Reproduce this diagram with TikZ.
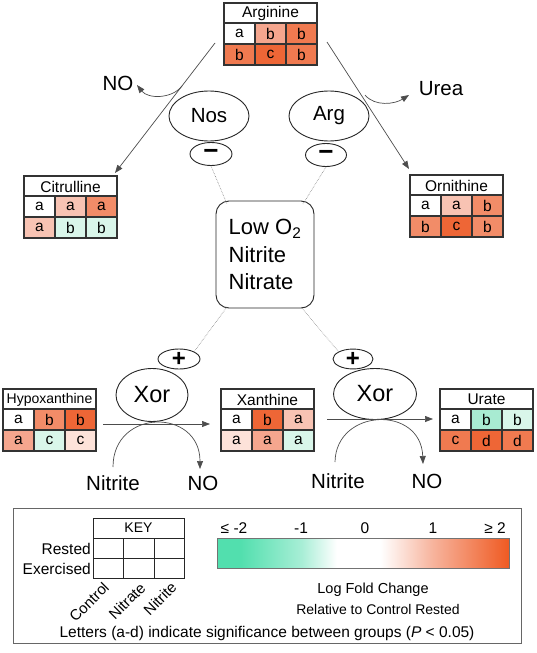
\documentclass[tikz,border=0pt]{standalone}
\usepackage{fontspec}
\setmainfont{Liberation Sans}
\usetikzlibrary{shapes.geometric,arrows.meta}
\definecolor{pA}{HTML}{FDE2D9}
\definecolor{pB}{HTML}{F8C3B3}
\definecolor{pC}{HTML}{F5A68E}
\definecolor{pD}{HTML}{F28C68}
\definecolor{pE}{HTML}{F07A50}
\definecolor{pF}{HTML}{EE6636}
\definecolor{gA}{HTML}{D9F6EA}
\definecolor{gB}{HTML}{A8EBD2}
\definecolor{tZ}{HTML}{52DFAE}
\definecolor{tY}{HTML}{A8EED6}
\definecolor{oY}{HTML}{F7B39C}
\definecolor{oZ}{HTML}{EF5A22}
\pgfdeclarehorizontalshading{lfc}{100bp}{color(0bp)=(tZ); color(25bp)=(tZ); color(29bp)=(tZ); color(39.5bp)=(tY); color(45.5bp)=(white); color(53bp)=(white); color(62bp)=(oY); color(75bp)=(oZ); color(100bp)=(oZ)}
\newcommand\fsz[2]{\fontsize{#1}{#2}\selectfont}
\tikzset{
  ln/.style={draw=black!70, line width=0.7pt},
  arr/.style={ln, -{Triangle[length=8pt,width=6pt]}},
  dotl/.style={draw=black!50, line width=0.6pt, densely dotted},
  ell/.style={ellipse, draw=black!85, line width=0.9pt, inner sep=0pt},
  tabline/.style={draw=black!80, line width=1.1pt},
  celltxt/.style={font=\fsz{15.5}{18}, inner sep=0pt},
  rottxt/.style={font=\fsz{15}{17}, inner sep=0pt, rotate=45},
  lbl/.style={font=\fsz{20.5}{24}, inner sep=0pt},
}
% name, x, y, title, cells
\newcommand\mtab[5]{%
\begin{scope}[shift={(#2,#3)}]
  \foreach \ci/\cj/\cc/\ct [count=\ck] in {#5}{
    \fill[fill=\cc] ({(\ci-1)*31},{20+(\cj-1)*21}) rectangle ++(31,21);
    \node[celltxt] (#1-\ck) at ({(\ci-0.5)*31},{20+(\cj-0.5)*21}) {\ct};
  }
  \node[minimum width=93pt, minimum height=62pt, anchor=north west, inner sep=0pt, outer sep=0pt] (#1) at (0,0) {};
  \draw[tabline] (0,0) rectangle (93,62);
  \draw[tabline] (0,20) -- (93,20) (0,41) -- (93,41) (31,20) -- (31,62) (62,20) -- (62,62);
  \node[celltxt] (#1-title) at (46.5,10.5) {#4};
\end{scope}}
\begin{document}
\begin{tikzpicture}[x=1pt,y=-1pt]
\useasboundingbox (0,0) rectangle (536,653);

% tables
\mtab{argt}{224}{3}{Arginine}{1/1/white/a,2/1/pC/b,3/1/pE/b,1/2/pE/b,2/2/pF/c,3/2/pE/b}
\mtab{citt}{24}{176}{Citrulline}{1/1/white/a,2/1/pB/a,3/1/pD/a,1/2/pB/a,2/2/gA/b,3/2/gA/b}
\mtab{ornt}{410}{175}{Ornithine}{1/1/white/a,2/1/pB/a,3/1/pD/b,1/2/pD/b,2/2/pF/c,3/2/pD/b}
\mtab{hypt}{3}{389}{\fsz{14}{16}Hypoxanthine}{1/1/white/a,2/1/pD/b,3/1/pF/b,1/2/pC/a,2/2/gA/c,3/2/pA/c}
\mtab{xant}{221}{389}{Xanthine}{1/1/white/a,2/1/pF/b,3/1/pB/a,1/2/pA/a,2/2/pC/a,3/2/gA/a}
\mtab{urat}{440}{389}{Urate}{1/1/white/a,2/1/gB/b,3/1/gA/b,1/2/pE/c,2/2/pF/d,3/2/pE/d}

% enzymes
\node[ell, minimum width=80pt, minimum height=50pt, font=\fsz{20.5}{24}] (nos) at (209,116) {Nos};
\node[ell, minimum width=42pt, minimum height=23pt, font=\fsz{26}{28}\bfseries] (nosm) at (211,154) {−};
\node[ell, minimum width=80pt, minimum height=50pt, font=\fsz{20.5}{24}] (argz) at (329,116) {Arg};
\node[ell, minimum width=41pt, minimum height=23pt, font=\fsz{26}{28}\bfseries] (argm) at (326,155) {−};
\node[ell, minimum width=42pt, minimum height=20pt, font=\fsz{24}{26}\bfseries] (plL) at (179,359) {+};
\node[ell, minimum width=72pt, minimum height=53pt, font=\fsz{23.5}{26}] (xorL) at (152,395) {Xor};
\node[ell, minimum width=40pt, minimum height=19pt, font=\fsz{24}{26}\bfseries] (plR) at (353,359) {+};
\node[ell, minimum width=83pt, minimum height=51pt, font=\fsz{23.5}{26}] (xorR) at (375,394) {Xor};

% central box
\node[draw=black!85, line width=0.9pt, rounded corners=13pt, minimum width=98pt, minimum height=107pt, align=left, font=\fsz{22}{27.5}] (low) at (265,254.5) {Low O\textsubscript{2}\\Nitrite\\Nitrate};

% labels
\node[lbl] (noT) at (118,83) {NO};
\node[lbl] (urea) at (441,89) {Urea};
\node[lbl] (nitL) at (113,483) {Nitrite};
\node[lbl] (noL) at (203,483) {NO};
\node[lbl] (nitR) at (338,481) {Nitrite};
\node[lbl] (noR) at (427,481) {NO};

% connectors
\coordinate (a1) at (215,43);
\coordinate (c1) at (115,173);
\draw[arr] (a1) -- (c1);
\coordinate (a2) at (327,42);
\coordinate (o1) at (409,169);
\draw[arr] (a2) -- (o1);
\coordinate (n0) at (182,86);
\coordinate (n1) at (137,85);
\draw[arr] (n0) .. controls (172,99) and (148,99) .. (n1);
\coordinate (u0) at (365,95);
\coordinate (u1) at (409,95);
\draw[arr] (u0) .. controls (375,107) and (395,104) .. (u1);

\coordinate (d1) at (227,204);
\coordinate (d2) at (303,204);
\coordinate (d3) at (227,307);
\coordinate (d4) at (301,307);
\draw[dotl] (nosm.south) -- (d1);
\draw[dotl] (argm.south) -- (d2);
\draw[dotl] (d3) -- (plL.north east);
\draw[dotl] (d4) -- (plR.north west);

\coordinate (h0) at (103,424);
\coordinate (h1) at (210,424);
\draw[arr] (h0) -- (h1);
\coordinate (r0) at (327,419);
\coordinate (r1) at (433,419);
\draw[arr] (r0) -- (r1);
\coordinate (cl0) at (113,467);
\coordinate (cl1) at (200,469);
\draw[arr] (cl0) .. controls (113,408) and (200,408) .. (cl1);
\coordinate (cr0) at (335,462);
\coordinate (cr1) at (423,464);
\draw[arr] (cr0) .. controls (336,408) and (421,405) .. (cr1);

% key
\node[draw=black!60, line width=1pt, minimum width=508pt, minimum height=135pt, anchor=north west, inner sep=0pt] (keybox) at (13,508) {};
\node[minimum width=91pt, minimum height=60pt, anchor=north west, inner sep=0pt] (keyt) at (93,518) {};
\draw[line width=1pt, draw=black!85] (93,518) rectangle (184,578) (93,538) -- (184,538) (93,558) -- (184,558) (123,538) -- (123,578) (154,538) -- (154,578);
\node[font=\fsz{14}{16}, inner sep=0pt] (keyT) at (138.5,528) {KEY};
\node[celltxt, anchor=east] (kr) at (91,549) {Rested};
\node[celltxt, anchor=east] (ke) at (91,569) {Exercised};
\node[rottxt] (kc) at (89,602) {Control};
\node[rottxt] (kn) at (127,601) {Nitrate};
\node[rottxt] (ki) at (160,598.5) {Nitrite};

\shade[shading=lfc] (217,538) rectangle (509,568);
\node[draw=black!55, line width=0.6pt, minimum width=292pt, minimum height=30pt, anchor=north west, inner sep=0pt] (cbar) at (217,538) {};
\node[celltxt] (v1) at (234,528) {≤ -2};
\node[celltxt] (v2) at (301,528) {-1};
\node[celltxt] (v3) at (365,528) {0};
\node[celltxt] (v4) at (433,528) {1};
\node[celltxt] (v5) at (495,528) {≥ 2};
\node[font=\fsz{14.5}{17}, inner sep=0pt] (lfc1) at (373,590) {Log Fold Change};
\node[font=\fsz{14}{17}, inner sep=0pt] (lfc2) at (378,609) {Relative to Control Rested};
\node[celltxt] (lett) at (267,633) {Letters (a-d) indicate significance between groups (\textit{P} < 0.05)};
\end{tikzpicture}
\end{document}
